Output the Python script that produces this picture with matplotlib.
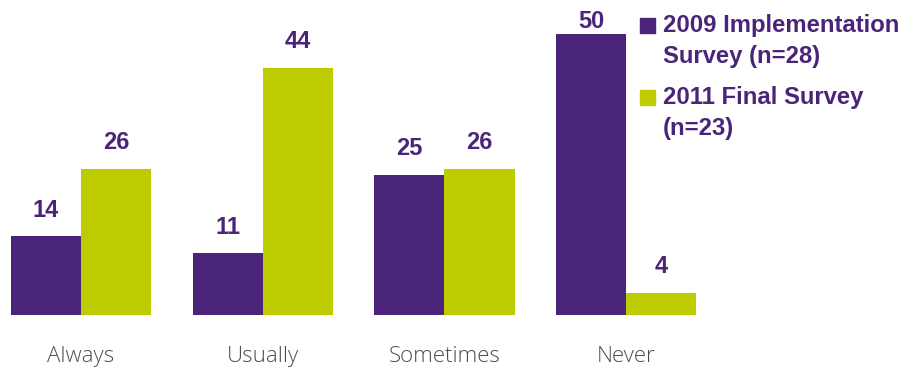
import numpy as np
import matplotlib.pyplot as plt
from matplotlib.patches import Rectangle

# Survey responses (%) per frequency category
categories = ['Always', 'Usually', 'Sometimes', 'Never']
survey_2009 = [14, 11, 25, 50]
survey_2011 = [26, 44, 26, 4]
series_names = [['2009 Implementation', 'Survey (n=28)'], ['2011 Final Survey', '(n=23)']]

purple = '#4a2479'
green = '#bccc00'

W, H = 904, 369
fig = plt.figure(figsize=(W / 100, H / 100), dpi=100)
ax = fig.add_axes([0, (H - 315) / H, 1, 309 / H])

x = np.arange(len(categories))
bw = 0.386
b1 = ax.bar(x - bw / 2, survey_2009, bw, color=purple)
b2 = ax.bar(x + bw / 2, survey_2011, bw, color=green)

for bars in (b1, b2):
    for bar in bars:
        v = bar.get_height()
        # tallest bar's label is squeezed toward the top edge
        off = 14 if v < 45 else 4.5
        ax.annotate(f'{v:g}', (bar.get_x() + bar.get_width() / 2, v),
                    xytext=(0, off), textcoords='offset points',
                    ha='center', va='baseline', fontsize=17, fontweight='bold',
                    color=purple, family='Liberation Sans')

ax.set_xlim(-81 / 181.7, (W - 81) / 181.7)
ax.set_ylim(0, 55)
ax.set_xticks(x)
ax.set_xticklabels(categories, fontsize=16, color='#4d4d4d', family='Open Sans',
                   fontweight='light')
ax.tick_params(axis='x', length=0, pad=22)
ax.set_yticks([])
for s in ax.spines.values():
    s.set_visible(False)

# legend drawn by hand at the top right
baselines = [[32, 63], [104, 135]]
for lines, col, bl in zip(series_names, [purple, green], baselines):
    fig.add_artist(Rectangle((640 / W, 1 - (bl[0] + 1) / H), 15 / W, 15 / H,
                             transform=fig.transFigure, color=col))
    for line, y in zip(lines, bl):
        fig.text(663 / W, 1 - y / H, line, ha='left', va='baseline',
                 fontsize=17.2, fontweight='bold', color=purple,
                 family='Liberation Sans')

fig.savefig('out.png', dpi=100)
